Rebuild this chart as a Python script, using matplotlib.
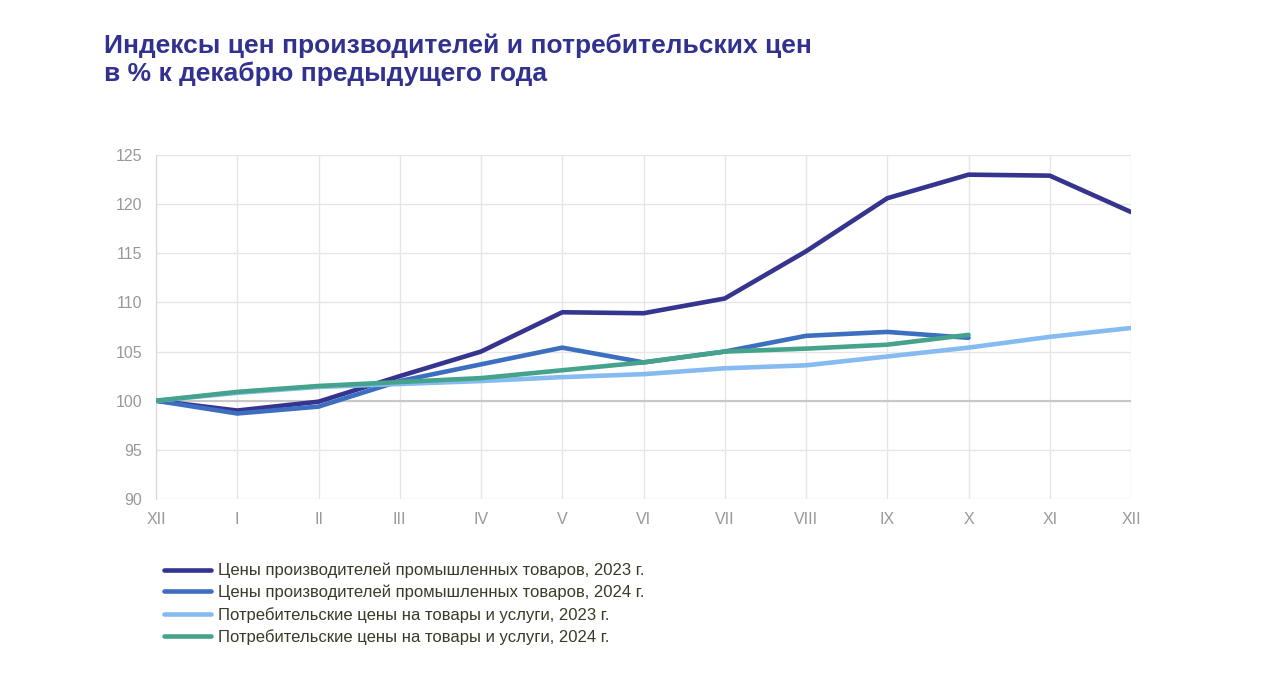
import matplotlib
matplotlib.use("Agg")
import matplotlib.pyplot as plt

months = ["XII", "I", "II", "III", "IV", "V", "VI", "VII", "VIII", "IX", "X", "XI", "XII"]
ppi_2023 = [100, 99.0, 99.9, 102.5, 105.0, 109.0, 108.9, 110.4, 115.2, 120.6, 123.0, 122.9, 119.2]
ppi_2024 = [100, 98.7, 99.4, 102.0, 103.7, 105.4, 103.9, 105.0, 106.6, 107.0, 106.4]
cpi_2023 = [100, 100.8, 101.4, 101.7, 102.0, 102.4, 102.7, 103.3, 103.6, 104.5, 105.4, 106.5, 107.4]
cpi_2024 = [100, 100.9, 101.5, 101.9, 102.3, 103.1, 103.9, 105.0, 105.3, 105.7, 106.7]
labels = [
    "Цены производителей промышленных товаров, 2023 г.",
    "Цены производителей промышленных товаров, 2024 г.",
    "Потребительские цены на товары и услуги, 2023 г.",
    "Потребительские цены на товары и услуги, 2024 г.",
]
yticks = [90, 95, 100, 105, 110, 115, 120, 125]
title = "Индексы цен производителей и потребительских цен\nв % к декабрю предыдущего года"

colors = ["#35348f", "#3c6fbf", "#86bbf2", "#46a38b"]

plt.rcParams['font.family'] = ['Liberation Sans', 'DejaVu Sans']

fig = plt.figure(figsize=(12.66, 6.84), dpi=100)
ax = fig.add_axes([156/1266, 1-499/684, (1131-156)/1266, (499-155)/684])

x_all = list(range(len(months)))
series = [ppi_2023, ppi_2024, cpi_2023, cpi_2024]
order = [2, 0, 1, 3]
lines = {}
for i in order:
    s = series[i]
    ln, = ax.plot(x_all[:len(s)], s, color=colors[i], lw=3.3, solid_capstyle='round',
                  solid_joinstyle='round', label=labels[i], zorder=3 + i)
    lines[i] = ln

ax.set_xlim(0, len(months) - 1)
ax.set_ylim(90, 125)
ax.set_xticks(x_all)
ax.set_xticklabels(months)
ax.set_yticks(yticks)
ax.tick_params(axis='both', length=0, colors='#999999', labelsize=11.5)
ax.tick_params(axis='x', pad=9)
ax.tick_params(axis='y', pad=10)
ax.grid(True, color='#e6e6e6', lw=1)
ax.axhline(100, color='#c8c8c8', lw=1.5, zorder=2)
for sp in ['top', 'right', 'bottom']:
    ax.spines[sp].set_visible(False)
ax.spines['left'].set_color('#d8d8d8')
ax.set_axisbelow(True)

fig.text(104/1266, 1-34/684, title, color='#313190', fontsize=19, fontweight='bold',
         va='top', ha='left', linespacing=1.13)

leg = fig.legend([lines[i] for i in range(4)], labels, loc='upper left',
                 bbox_to_anchor=(164/1266, 1-563/684), frameon=False, fontsize=12,
                 handlelength=2.8, handletextpad=0.45, labelspacing=0.38, borderpad=0,
                 borderaxespad=0)
for t in leg.get_texts():
    t.set_color('#3a3a28')

fig.savefig("out.png", dpi=100, facecolor='white')
